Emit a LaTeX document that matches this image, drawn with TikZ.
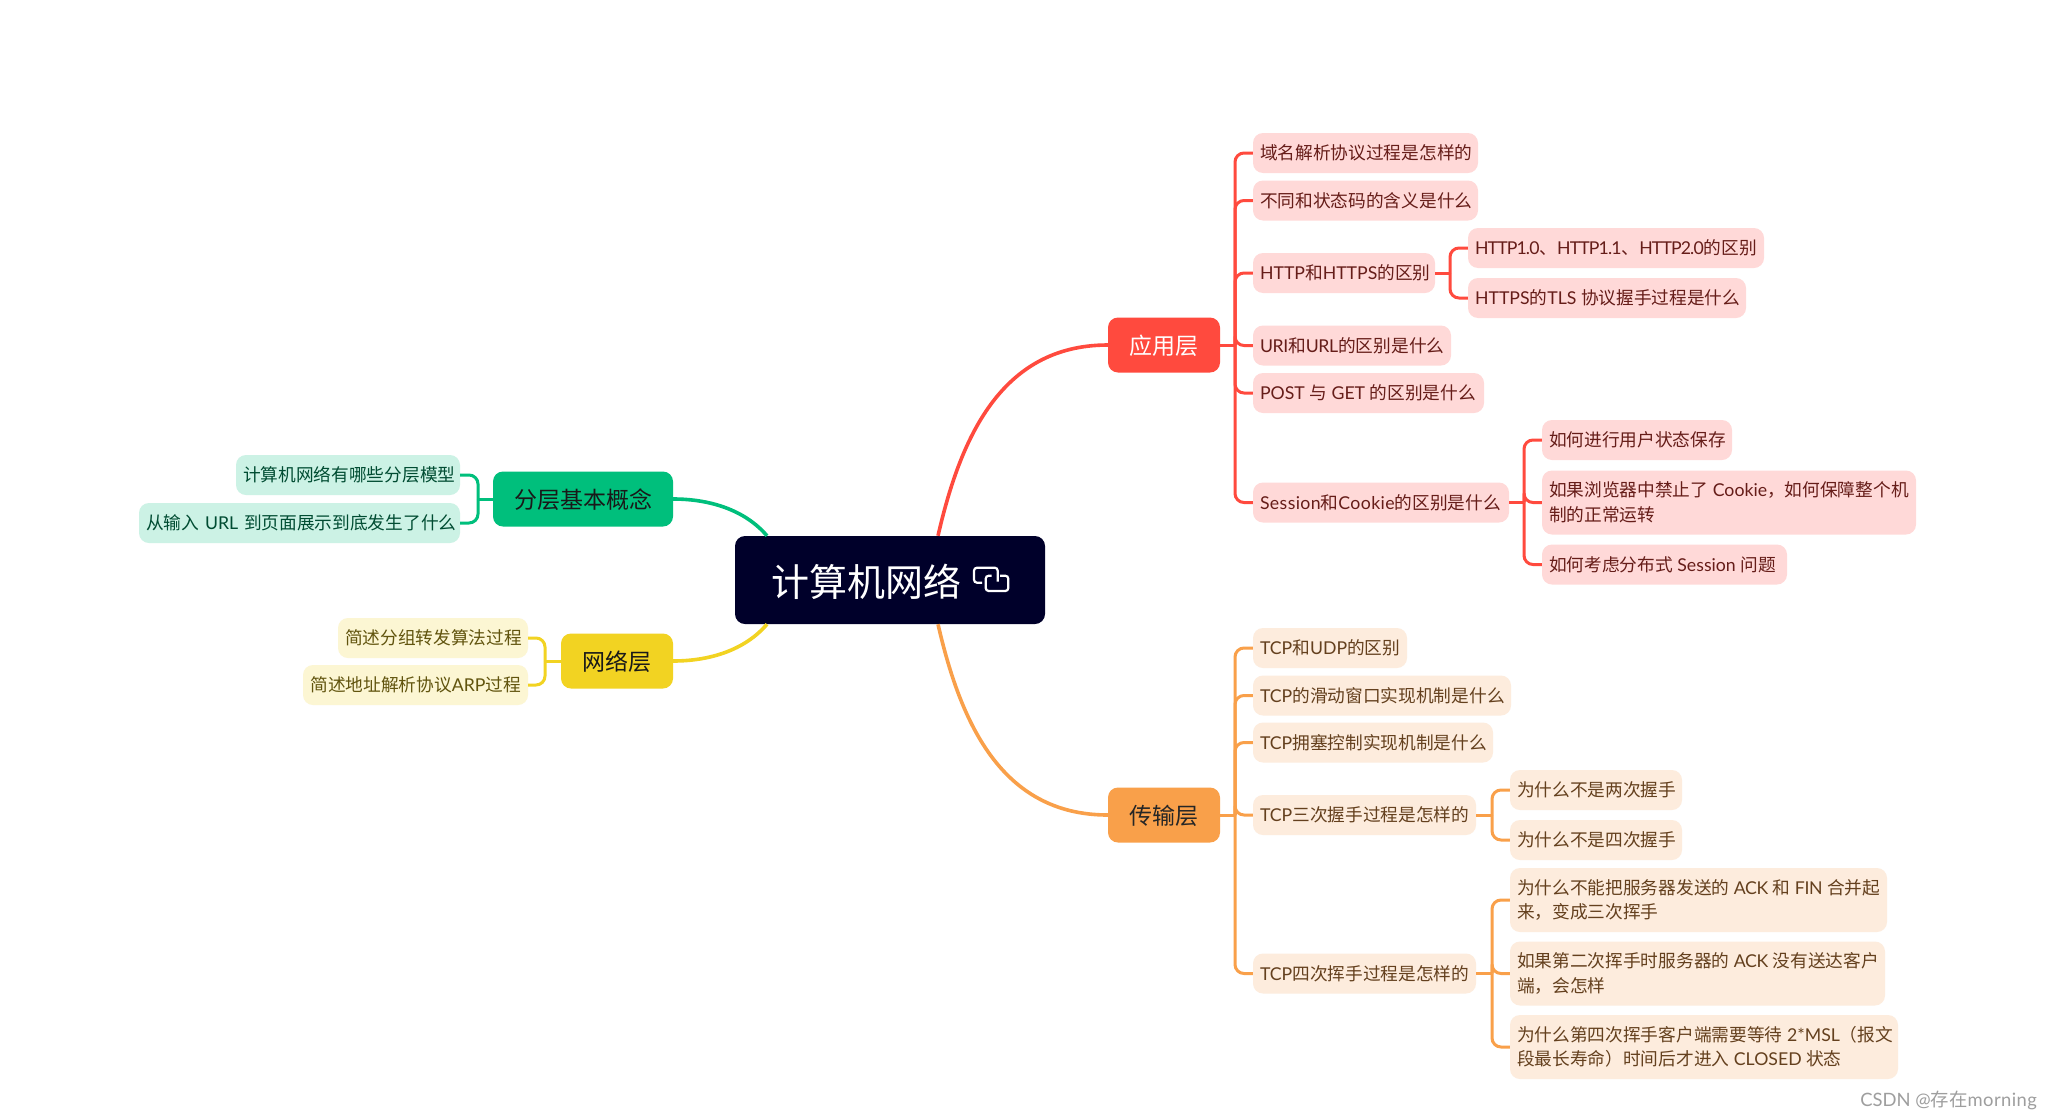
\documentclass[tikz,border=0pt]{standalone}
\usepackage{fontspec}
\setmainfont{Noto Sans CJK SC}
\newfontfamily\latn{Lato}
\newfontfamily\latnw[LetterSpace=2.2]{Lato}
\newfontfamily\latnn[LetterSpace=-5]{Lato}
\newfontfamily\latns[LetterSpace=-2.5]{Lato}
\newcommand{\la}[1]{{\latn #1}}
\newcommand{\lawide}[1]{{\latnw #1}}
\newcommand{\lanarrow}[1]{{\latnn #1}}
\newcommand{\laslim}[1]{{\latns #1}}
\newcommand{\gp}{\kern4.5pt\relax}
\definecolor{redM}{HTML}{FF4A3E}
\definecolor{redL}{HTML}{FFD9D8}
\definecolor{redT}{HTML}{661D19}
\definecolor{orM}{HTML}{F9A04A}
\definecolor{orL}{HTML}{FDECDD}
\definecolor{orT}{HTML}{64401E}
\definecolor{grM}{HTML}{00BF7C}
\definecolor{grL}{HTML}{CCF2E5}
\definecolor{grT}{HTML}{004C32}
\definecolor{yeM}{HTML}{F2D322}
\definecolor{yeL}{HTML}{FCF6D3}
\definecolor{yeT}{HTML}{61540E}
\definecolor{rootC}{HTML}{00002A}
\tikzset{
  boxbase/.style={rectangle,rounded corners=10pt,inner xsep=7pt,inner ysep=0pt,font=\fontsize{17.7}{24.5}\selectfont},
  redbox/.style={boxbase,fill=redL,text=redT},
  orbox/.style={boxbase,fill=orL,text=orT},
  grbox/.style={boxbase,fill=grL,text=grT},
  yebox/.style={boxbase,fill=yeL,text=yeT},
  topbox/.style={rectangle,rounded corners=10pt,inner sep=0pt,font=\fontsize{23}{27}\selectfont},
  link/.style={line width=3pt,rounded corners=9pt},
  stub/.style={line width=3pt},
  big/.style={line width=3.6pt},
  icon/.style={draw=white,line width=2.2pt,rounded corners=3pt}
}
% name, x1, x2, cy, height, style+align, text
\newcommand{\bxm}[7]{%
  \pgfmathsetmacro{\bw}{#3-#2}\pgfmathsetmacro{\bt}{#3-#2-14}\pgfmathsetmacro{\bc}{(#2+#3)/2}%
  \node[#6,minimum width=\bw pt,minimum height=#5 pt,text width=\bt pt] (#1) at (\bc,#4) {#7};}
\newcommand{\bx}[7]{\bxm{#1}{#2}{#3}{#4}{#5}{#6}{\rule[-2.1pt]{0pt}{17.6pt}#7}}
\newcommand{\tp}[7]{%
  \pgfmathsetmacro{\bw}{#3-#2}\pgfmathsetmacro{\bc}{(#2+#3)/2}%
  \node[topbox,minimum width=\bw pt,minimum height=#5 pt,#6] (#1) at (\bc,#4) {\rule[-0.12em]{0pt}{1.1em}#7};}
% elbow to the right / left: colour, parent, trunk, child
\newcommand{\er}[4]{\draw[stub,#1] (#2.east) -- (#2.east -| #3);\draw[link,#1] (#2.east -| #3) -- (#3 |- #4.west) -- (#4.west);}
\newcommand{\el}[4]{\draw[stub,#1] (#2.west) -- (#2.west -| #3);\draw[link,#1] (#2.west -| #3) -- (#3 |- #4.east) -- (#4.east);}
\begin{document}
\begin{tikzpicture}[x=1pt,y=-1pt]
\useasboundingbox (0,0) rectangle (2052,1119);
\fill[white] (0,0) rectangle (2052,1119);
\coordinate (tA) at (1235,0);
\coordinate (tH) at (1450,0);
\coordinate (tS) at (1524,0);
\coordinate (tT) at (1235,0);
\coordinate (tW) at (1492,0);
\coordinate (tG) at (478,0);
\coordinate (tY) at (545,0);

\tp{root}{735}{1045}{580}{88}{fill=rootC,text=white,font=\fontsize{38}{40}\selectfont,inner xsep=36pt,text width=238pt,align=left}{计算机网络}
\tp{app}{1108}{1220}{345}{55}{fill=redM,text=white}{应用层}
\tp{trans}{1108}{1220}{815}{55}{fill=orM,text=black!85}{传输层}
\tp{layer}{493}{673}{499}{55}{fill=grM,text=black!90}{分层基本概念}
\tp{net}{561}{673}{661}{55}{fill=yeM,text=black!90}{网络层}

\bx{a1}{1253}{1478}{153}{40}{redbox,align=left}{域名解析协议过程是怎样的}
\bx{a2}{1253}{1478}{200.5}{40}{redbox,align=left}{不同和状态码的含义是什么}
\bx{a3}{1253}{1435}{273}{40}{redbox,align=left}{\la{HTTP}和\la{HTTPS}的区别}
\bx{a31}{1468}{1764}{248}{40}{redbox,align=left}{\lanarrow{HTTP1.0}、\lanarrow{HTTP1.1}、\lanarrow{HTTP2.0}的区别}
\bx{a32}{1468}{1746}{298}{40}{redbox,align=left}{\la{HTTPS}的\la{TLS}\gp 协议握手过程是什么}
\bx{a4}{1253}{1451}{345.5}{40}{redbox,align=left}{\laslim{URI}和\laslim{URL}的区别是什么}
\bx{a5}{1253}{1484}{393}{40}{redbox,align=left}{\la{POST}\gp 与\gp \la{GET}\gp 的区别是什么}
\bx{a6}{1253}{1509}{502.5}{40}{redbox,align=left}{\lawide{Session}和\lawide{Cookie}的区别是什么}
\bx{a61}{1542}{1732}{440}{40}{redbox,align=left}{如何进行用户状态保存}
\bxm{a62}{1542}{1916}{502.5}{64}{redbox,align=left}{如果浏览器中禁止了\gp \la{Cookie}，如何保障整个机\\制的正常运转}
\bx{a63}{1542}{1787}{564.5}{40}{redbox,align=left}{如何考虑分布式\gp \la{Session}\gp 问题}

\bx{t1}{1253}{1407}{648}{40}{orbox,align=left}{\la{TCP}和\la{UDP}的区别}
\bx{t2}{1253}{1511}{695.5}{40}{orbox,align=left}{\la{TCP}的滑动窗口实现机制是什么}
\bx{t3}{1253}{1493}{742.5}{40}{orbox,align=left}{\la{TCP}拥塞控制实现机制是什么}
\bx{t4}{1253}{1476}{815}{40}{orbox,align=left}{\la{TCP}三次握手过程是怎样的}
\bx{t41}{1510}{1682}{790}{40}{orbox,align=left}{为什么不是两次握手}
\bx{t42}{1510}{1682}{840}{40}{orbox,align=left}{为什么不是四次握手}
\bx{t5}{1253}{1476}{973.5}{40}{orbox,align=left}{\la{TCP}四次挥手过程是怎样的}
\bxm{t51}{1510}{1887}{900}{64}{orbox,align=left}{为什么不能把服务器发送的\gp \laslim{ACK}\gp 和\gp \laslim{FIN}\gp 合并起\\来，变成三次挥手}
\bxm{t52}{1510}{1885}{973.5}{64}{orbox,align=left}{如果第二次挥手时服务器的\gp \laslim{ACK}\gp 没有送达客户\\端，会怎样}
\bxm{t53}{1510}{1898}{1047}{64}{orbox,align=left}{为什么第四次挥手客户端需要等待\gp \la{2*MSL}（报文\\段最长寿命）时间后才进入\gp \la{CLOSED}\gp 状态}

\bx{g1}{236}{460}{475}{40}{grbox,align=right}{计算机网络有哪些分层模型}
\bx{g2}{139}{460}{523}{40}{grbox,align=right}{从输入~\la{URL}~到页面展示到底发生了什么}
\bx{y1}{338}{528}{638}{40}{yebox,align=right}{简述分组转发算法过程}
\bx{y2}{303}{528}{685}{40}{yebox,align=right}{简述地址解析协议\la{ARP}过程}

\draw[big,redM] (app.west) .. controls (1000,345) and (960,440) .. (root.north -| 938,0);
\draw[big,orM] (trans.west) .. controls (1000,815) and (960,720) .. (root.south -| 938,0);
\draw[big,grM] (layer.east) .. controls (710,499) and (745,510) .. (root.north -| 767,0);
\draw[big,yeM] (net.east) .. controls (710,661) and (745,650) .. (root.south -| 767,0);

\foreach \c in {a1,a2,a3,a4,a5,a6}{\er{redM}{app}{tA}{\c}}
\foreach \c in {a31,a32}{\er{redM}{a3}{tH}{\c}}
\foreach \c in {a61,a62,a63}{\er{redM}{a6}{tS}{\c}}
\foreach \c in {t1,t2,t3,t4,t5}{\er{orM}{trans}{tT}{\c}}
\foreach \c in {t41,t42}{\er{orM}{t4}{tW}{\c}}
\foreach \c in {t51,t52,t53}{\er{orM}{t5}{tW}{\c}}
\foreach \c in {g1,g2}{\el{grM}{layer}{tG}{\c}}
\foreach \c in {y1,y2}{\el{yeM}{net}{tY}{\c}}

\draw[icon] (982,582.7) -- (974,582.7) -- (974,567.7) -- (997.7,567.7) -- (997.7,581.7);
\draw[icon] (1000,575.7) -- (1008.3,575.7) -- (1008.3,591) -- (985.7,591) -- (985.7,575.7) -- (991.7,575.7);

\node[anchor=east,inner sep=0pt,text=black!38,font=\fontsize{18.4}{20}\selectfont] (wm) at (2037,1100) {\la{CSDN @}存在\lawide{morning}};
\end{tikzpicture}
\end{document}
